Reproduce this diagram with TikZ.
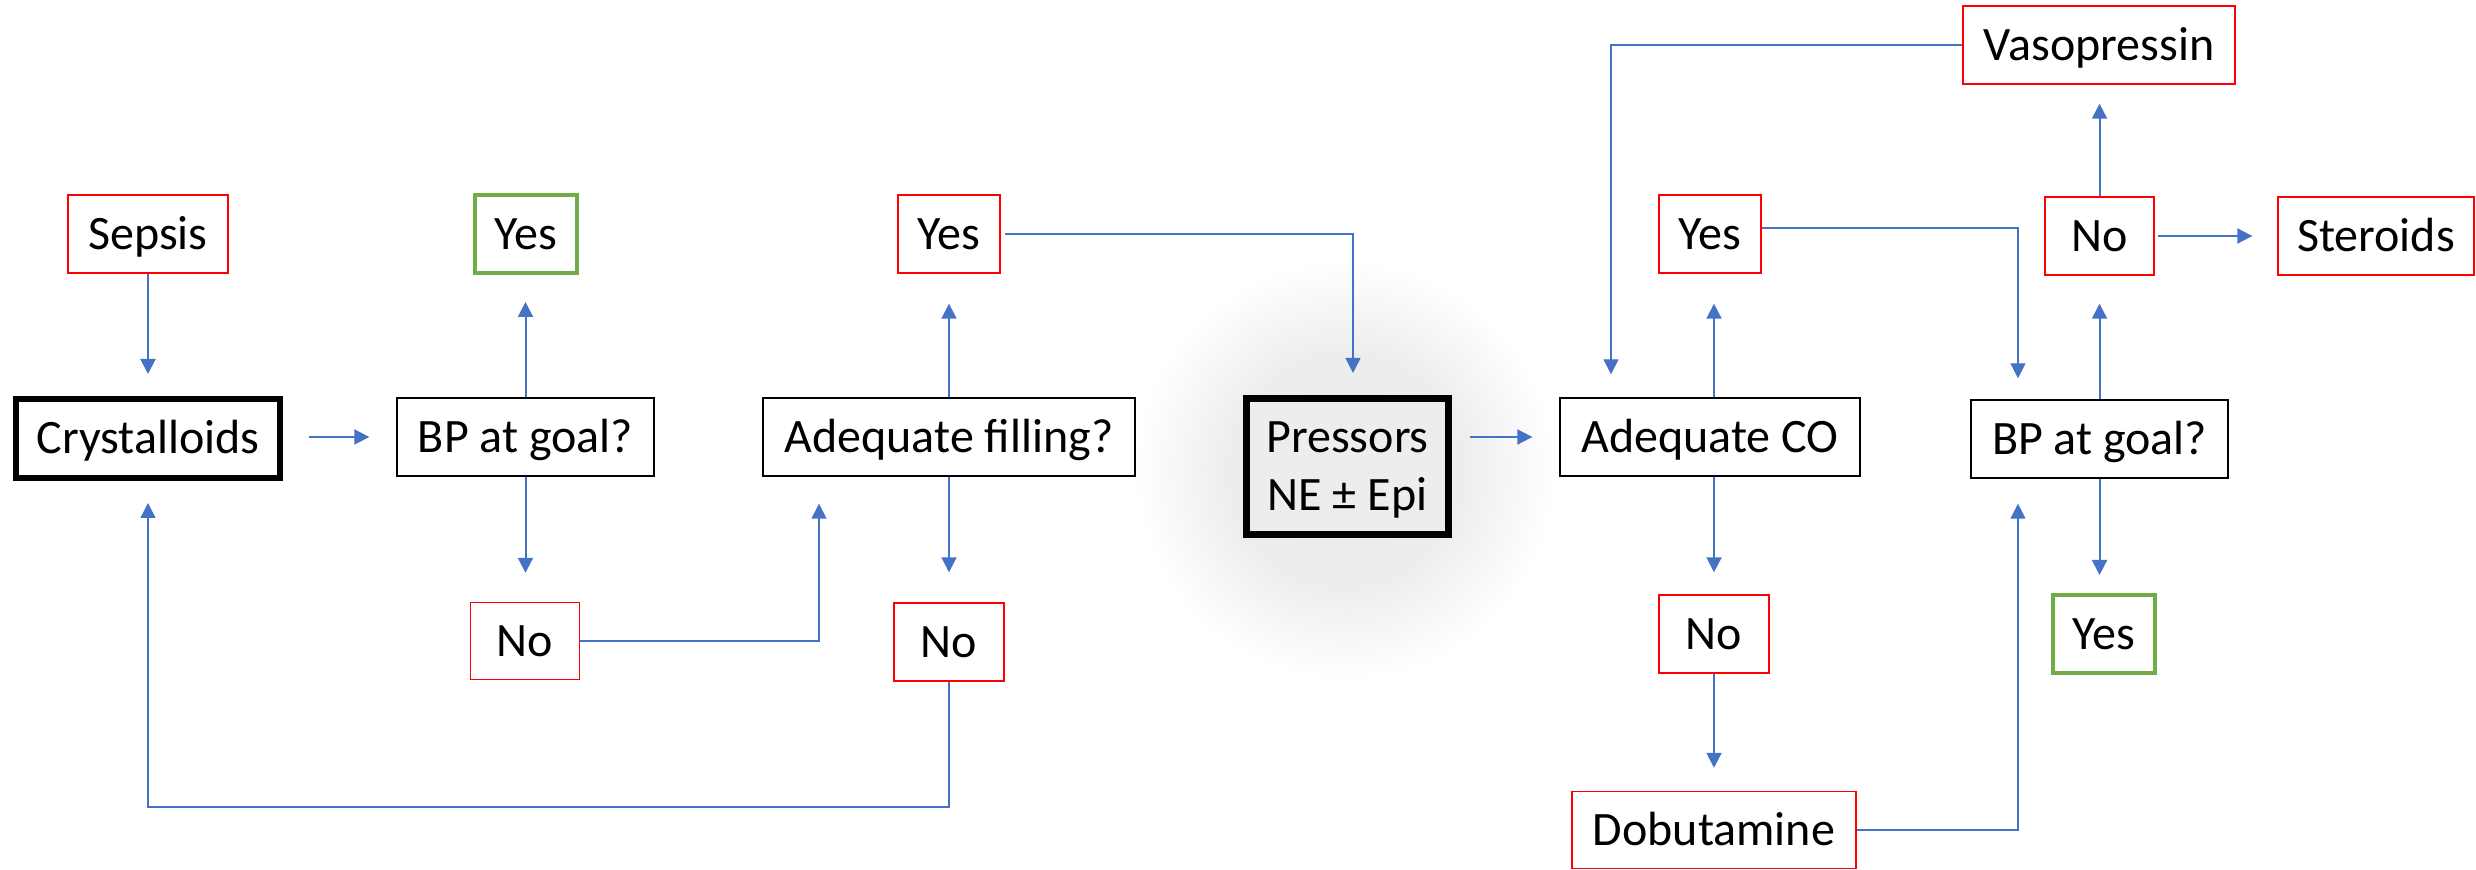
\documentclass[tikz,border=0pt]{standalone}
\usepackage{fontspec}
\setmainfont{Carlito}
\usetikzlibrary{arrows.meta,calc}
\pgfdeclareradialshading{glow}{\pgfpoint{0bp}{0bp}}{color(0bp)=(black!8); color(14bp)=(black!7); color(25bp)=(white); color(50bp)=(white)}
\definecolor{cblue}{HTML}{4472C4}
\definecolor{cred}{HTML}{FF0000}
\definecolor{cgreen}{HTML}{70AD47}
\begin{document}
\begin{tikzpicture}[x=0.5pt,y=-0.5pt,
  box/.style={draw, line width=0.7pt, minimum height=39pt, inner sep=0pt,
    text height=15.5pt, text depth=0pt, fill=white,
    font=\fontsize{24pt}{29pt}\selectfont},
  rbox/.style={box, draw=cred},
  gbox/.style={box, draw=cgreen, line width=2pt},
  kbox/.style={box, line width=3pt},
  arr/.style={draw=cblue, line width=1pt, -{Triangle[length=7.5pt,width=7.5pt]}},
  elbow/.style={line width=0.7pt}]
\useasboundingbox (0,0) rectangle (2476,870);
% soft glow behind the pressors box
\shade[shading=glow] (1345,470) circle [radius=210];
\node[box, line width=3.5pt, fill=black!7, minimum width=101pt, minimum height=68pt,
  align=center, text height=44.5pt, text depth=0pt]
  (press) at (1347.5,466.5) {Pressors\\NE ± Epi};
% left part
\node[rbox, minimum width=80pt] (sepsis) at (148,234) {Sepsis};
\node[kbox, minimum width=132pt, minimum height=39.5pt] (cryst) at (148,438.5) {Crystalloids};
\node[gbox, minimum width=51pt] (yes1) at (526,234) {Yes};
\node[box, minimum width=128.5pt] (bp1) at (525.5,437) {BP at goal?};
\node[rbox, minimum width=54.5pt, minimum height=38.5pt] (no1) at (525,641) {No};
\node[rbox, minimum width=51pt] (yes2) at (949,234) {Yes};
\node[box, minimum width=186pt] (fill) at (949,437) {Adequate filling?};
\node[rbox, minimum width=55pt] (no2) at (949,642) {No};
% right part
\node[box, minimum width=150pt] (co) at (1710,437) {Adequate CO};
\node[rbox, minimum width=51pt] (yes3) at (1710,234) {Yes};
\node[rbox, minimum width=55pt] (no3) at (1714,634) {No};
\node[rbox, minimum width=142pt, minimum height=38.5pt] (dobut) at (1714,830) {Dobutamine};
\node[box, minimum width=128.5pt] (bp2) at (2099.5,439) {BP at goal?};
\node[gbox, minimum width=51pt] (yes4) at (2104,634) {Yes};
\node[rbox, minimum width=54.5pt] (no4) at (2099.5,236) {No};
\node[rbox, minimum width=136pt] (vaso) at (2099,45) {Vasopressin};
\node[rbox, minimum width=98pt] (ster) at (2376,236) {Steroids};
% connectors
\draw[arr, shorten >=11pt] (sepsis.south) -- (sepsis.south |- cryst.north);
\draw[arr, shorten <=13pt, shorten >=13.5pt] (cryst.east |- bp1.west) -- (bp1.west);
\draw[arr, shorten >=13.5pt] (bp1.north) -- (bp1.north |- yes1.south);
\draw[arr, shorten >=14.5pt] (bp1.south) -- (bp1.south |- no1.north);
\draw[arr, elbow, shorten >=13.5pt] (no1.east) -| ([xshift=-65pt]fill.south);
\draw[arr, shorten >=15pt] (fill.north) -- (fill.north |- yes2.south);
\draw[arr, shorten >=15pt] (fill.south) -- (fill.south |- no2.north);
\coordinate (loop) at (148,807);
\draw[arr, elbow, shorten >=11pt] (no2.south) |- (loop) -- (cryst.south);
\draw[arr, elbow, shorten <=2pt, shorten >=11pt] (yes2.east) -| ([xshift=2.75pt]press.north);
\draw[arr, shorten <=9pt, shorten >=13.5pt] (press.east |- co.west) -- (co.west);
\draw[arr, shorten >=15pt] ([xshift=2pt]co.north) -- ([xshift=2pt]co.north |- yes3.south);
\draw[arr, shorten >=11pt] ([xshift=2pt]co.south) -- ([xshift=2pt]co.south |- no3.north);
\draw[arr, shorten >=11.5pt] (no3.south) -- (no3.south |- dobut.north);
\draw[arr, elbow, shorten >=12.5pt] (dobut.east) -| ([xshift=-40.75pt]bp2.south);
\draw[arr, elbow, shorten >=10.5pt] ([yshift=3pt]yes3.east) -| ([xshift=-40.75pt]bp2.north);
\draw[arr, shorten >=14pt] (bp2.north) -- (bp2.north |- no4.south);
\draw[arr, shorten >=9pt] (bp2.south) -- (bp2.south |- yes4.north);
\draw[arr, shorten >=9.5pt] (no4.north) -- (no4.north |- vaso.south);
\draw[arr, shorten <=1.5pt, shorten >=12.5pt] (no4.east) -- (ster.west);
\draw[arr, elbow, shorten >=11.5pt] (vaso.west) -| ([xshift=-49.5pt]co.north);
\end{tikzpicture}
\end{document}
